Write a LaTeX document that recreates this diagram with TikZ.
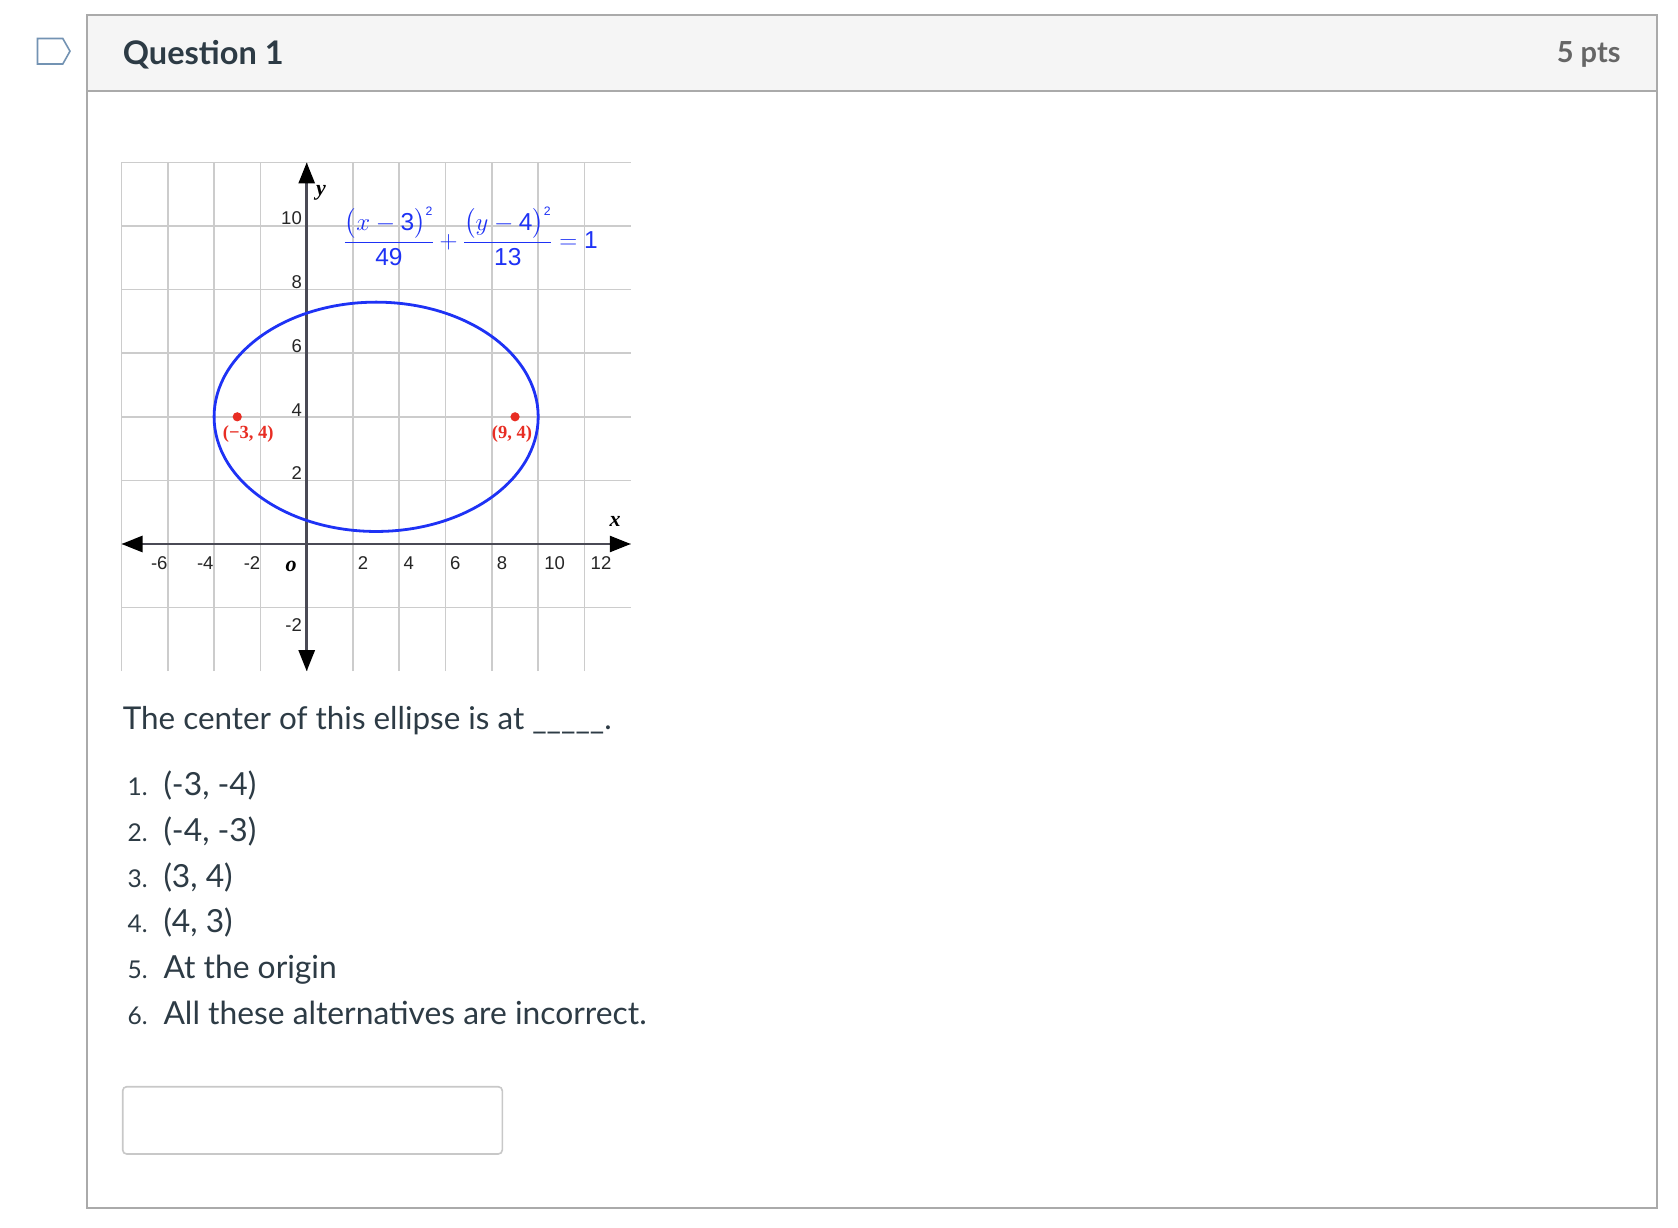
\documentclass[tikz,border=0pt]{standalone}
\usepackage{amsmath}
\usepackage{fontspec}
\setmainfont{Lato}
\newfontfamily\arialf{Liberation Sans}
\newfontfamily\serifb{Liberation Serif}
\usetikzlibrary{arrows.meta}
\definecolor{canvastext}{HTML}{2D3B45}
\definecolor{bordergray}{HTML}{AAAAAA}
\definecolor{headfill}{HTML}{F5F5F5}
\definecolor{gridgray}{HTML}{CCCCCC}
\definecolor{axisgray}{HTML}{4A4A55}
\definecolor{curveblue}{RGB}{30,50,245}
\definecolor{ptred}{RGB}{232,45,35}
\definecolor{iconblue}{HTML}{7393B3}
\definecolor{ptsgray}{HTML}{666666}
\definecolor{boxgray}{HTML}{C8C8C8}
\newcommand{\sdig}[1]{\text{\arialf #1}}
\begin{document}
\begin{tikzpicture}[x=1pt,y=-1pt,
  gridline/.style={draw=gridgray,line width=1.7pt},
  axisline/.style={draw=axisgray,line width=2.6pt,
    {Triangle[length=21pt,width=16pt,color=black]}-{Triangle[length=21pt,width=16pt,color=black]}},
  curve/.style={draw=curveblue,line width=2.8pt},
  tick/.style={font=\arialf\fontsize{18.5}{20}\selectfont,text=black!85,inner sep=0pt},
  axisletter/.style={font=\serifb\bfseries\itshape\fontsize{22}{24}\selectfont,text=black,inner sep=0pt},
  ptlabel/.style={font=\serifb\bfseries\fontsize{18.5}{20}\selectfont,text=ptred,inner sep=0pt},
  bodytext/.style={font=\fontsize{31.4}{37}\selectfont,text=canvastext,inner sep=0pt},
  itemnum/.style={font=\fontsize{24.5}{28}\selectfont,text=canvastext,inner sep=0pt,anchor=base west},
  itemtext/.style={font=\fontsize{31.8}{36}\selectfont,text=canvastext,inner sep=0pt,anchor=base west}]
\useasboundingbox[fill=white] (0,0) rectangle (1678,1228);
% outer panel
\path[fill=white] (86.7,15) rectangle (1656.7,1208.3);
\path[fill=headfill] (86.7,15) rectangle (1656.7,91);
\draw[bordergray,line width=2pt] (86.7,91) -- (1656.7,91);
\draw[bordergray,line width=2pt] (86.7,15) rectangle (1656.7,1208.3);
% icon
\draw[iconblue,line width=1.6pt,line join=miter] (37.5,38.5) -- (62.8,38.5) -- (70,51.2) -- (62.8,64) -- (37.5,64) -- cycle;
\node[font=\bfseries\fontsize{32.5}{38}\selectfont,text=canvastext,inner sep=0pt,anchor=base west] (qtitle) at (122.7,65) {Question 1};
\node[font=\bfseries\fontsize{29}{34}\selectfont,text=ptsgray,inner sep=0pt,anchor=base east] (qpts) at (1620.7,63) {5 pts};
% graph
\begin{scope}[shift={(306.7,544)},x=23.15pt,y=31.8pt]
  \foreach \gx in {-8,-6,...,12} \draw[gridline] (\gx,-4) -- (\gx,12);
  \foreach \gy in {-2,0,...,12} \draw[gridline] (-8,\gy) -- (14,\gy);
  \coordinate (xl) at (-8,0);
  \coordinate (xr) at (14,0);
  \coordinate (yb) at (0,-4);
  \coordinate (yt) at (0,12);
  \draw[axisline] (xl) -- (xr);
  \draw[axisline] (yb) -- (yt);
  \coordinate (ctr) at (3,4);
  \draw[curve] (ctr) ellipse [x radius=162.05pt,y radius=114.66pt];
  \coordinate (f1) at (-3,4);
  \coordinate (f2) at (9,4);
  \fill[ptred] (f1) circle (4.6pt);
  \fill[ptred] (f2) circle (4.6pt);
\end{scope}
% tick labels
\node[tick,anchor=east] (ty10) at (302,217.7) {10};
\node[tick,anchor=east] (ty8) at (302,282.5) {8};
\node[tick,anchor=east] (ty6) at (302,346.2) {6};
\node[tick,anchor=east] (ty4) at (302,410.2) {4};
\node[tick,anchor=east] (ty2) at (302,473.3) {2};
\node[tick,anchor=east] (tym2) at (302,625) {-2};
\node[tick] (txm6) at (159.3,563) {-6};
\node[tick] (txm4) at (205.3,563) {-4};
\node[tick] (txm2) at (252,563) {-2};
\node[tick] (tx2) at (363,563) {2};
\node[tick] (tx4) at (408.7,563) {4};
\node[tick] (tx6) at (455.3,563) {6};
\node[tick] (tx8) at (502,563) {8};
\node[tick] (tx10) at (554.7,563) {10};
\node[tick] (tx12) at (601,563) {12};
\node[axisletter] (orig) at (291,566) {o};
\node[axisletter] (ylab) at (321,193) {y};
\node[axisletter] (xlab) at (615,521) {x};
\node[ptlabel] (l1) at (248.3,434) {(−3, 4)};
\node[ptlabel] (l2) at (512,434) {(9, 4)};
\node[font=\arialf\fontsize{24.5}{28}\selectfont,text=curveblue,inner sep=0pt,anchor=base] (eq) at (470.8,248.5)
  {$\dfrac{\bigl(x-\sdig{3}\bigr)^{\scriptscriptstyle\sdig{2}}}{\sdig{49}}+\dfrac{\bigl(y-\sdig{4}\bigr)^{\scriptscriptstyle\sdig{2}}}{\sdig{13}}=\sdig{1}$};
% question text
\node[bodytext,anchor=base west] (qtext) at (122.7,729.3) {The center of this ellipse is at \_\_\_\_\_.};
\node[itemnum] (n1) at (127.5,795) {1.};
\node[itemtext] (a1) at (163.3,795) {(-3, -4)};
\node[itemnum] (n2) at (127.5,841) {2.};
\node[itemtext] (a2) at (163.3,841) {(-4, -3)};
\node[itemnum] (n3) at (127.5,887) {3.};
\node[itemtext] (a3) at (163.3,887) {(3, 4)};
\node[itemnum] (n4) at (127.5,932.7) {4.};
\node[itemtext] (a4) at (163.3,932.7) {(4, 3)};
\node[itemnum] (n5) at (127.5,978.3) {5.};
\node[itemtext] (a5) at (163.3,978.3) {At the origin};
\node[itemnum] (n6) at (127.5,1024) {6.};
\node[itemtext] (a6) at (163.3,1024) {All these alternatives are incorrect.};
% answer box
\draw[boxgray,line width=1.6pt,rounded corners=4pt] (122.7,1086.7) rectangle (502.3,1154);
\end{tikzpicture}
\end{document}
